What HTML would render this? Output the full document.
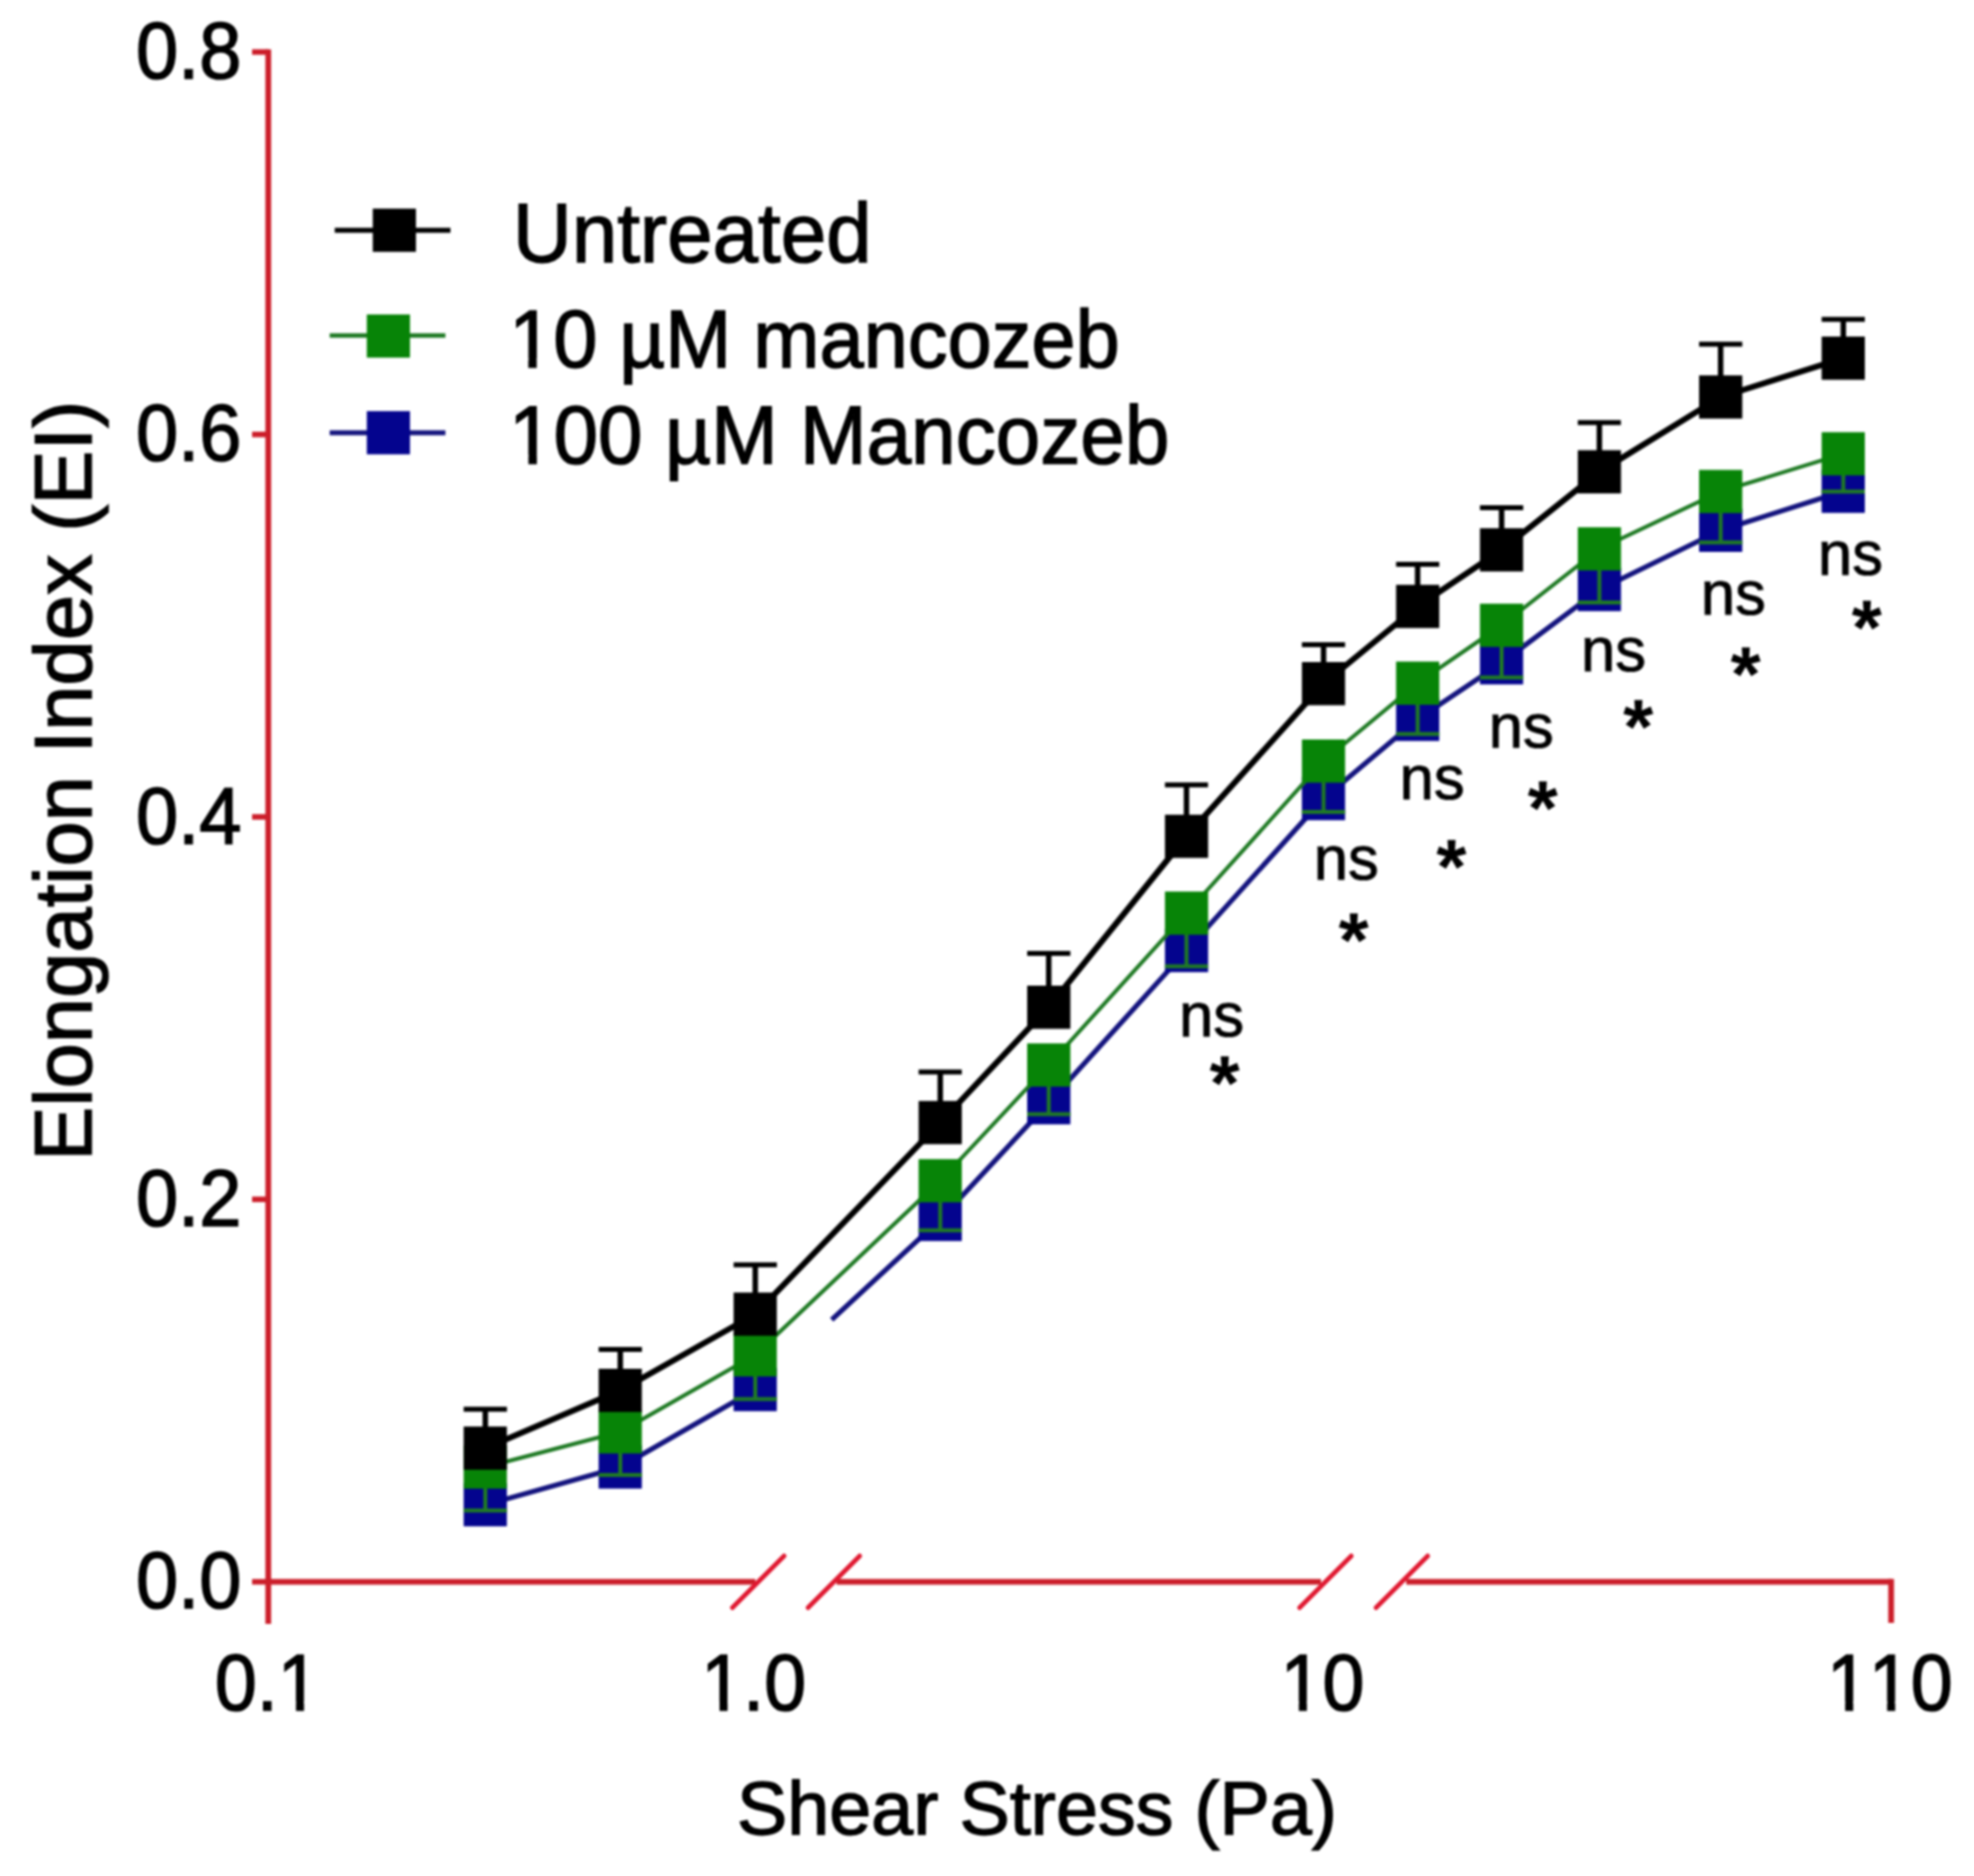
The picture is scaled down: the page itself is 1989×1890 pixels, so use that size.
<!DOCTYPE html>
<html lang="en"><head><meta charset="utf-8"><title>Elongation Index vs Shear Stress</title>
<style>html,body{margin:0;padding:0;background:#fff}body{width:1989px;height:1890px;overflow:hidden}svg{display:block;filter:blur(0.85px)}text{font-family:"Liberation Sans",Arial,sans-serif;fill:#000;font-kerning:none;font-variant-ligatures:none;text-rendering:geometricPrecision}</style>
</head><body>
<svg width="1989" height="1890" viewBox="0 0 1989 1890">
<rect width="1989" height="1890" fill="#fff"/>
<g id="blue">
<polyline points="489.0,1516.0 625.0,1478.0 761.0,1400.0" fill="none" stroke="#14147e" stroke-width="5.1" stroke-linejoin="round"/>
<polyline points="838.0,1329.6 947.4,1228.6 1056.7,1111.0 1195.5,957.6 1333.6,804.5 1428.4,724.7 1513.0,667.8 1611.5,594.0 1733.7,534.2 1857.3,495.0" fill="none" stroke="#14147e" stroke-width="5.1" stroke-linejoin="round"/>
<rect x="467.2" y="1494.2" width="43.5" height="43.5" fill="#04048e"/>
<rect x="603.2" y="1456.2" width="43.5" height="43.5" fill="#04048e"/>
<rect x="739.2" y="1378.2" width="43.5" height="43.5" fill="#04048e"/>
<rect x="925.6" y="1206.8" width="43.5" height="43.5" fill="#04048e"/>
<rect x="1035.0" y="1089.2" width="43.5" height="43.5" fill="#04048e"/>
<rect x="1173.8" y="935.9" width="43.5" height="43.5" fill="#04048e"/>
<rect x="1311.8" y="782.8" width="43.5" height="43.5" fill="#04048e"/>
<rect x="1406.7" y="703.0" width="43.5" height="43.5" fill="#04048e"/>
<rect x="1491.2" y="646.0" width="43.5" height="43.5" fill="#04048e"/>
<rect x="1589.8" y="572.2" width="43.5" height="43.5" fill="#04048e"/>
<rect x="1712.0" y="512.5" width="43.5" height="43.5" fill="#04048e"/>
<rect x="1835.5" y="473.2" width="43.5" height="43.5" fill="#04048e"/>
</g>
<g id="green">
<polyline points="489.0,1478.0 625.0,1442.5 761.0,1365.0 947.4,1189.5 1056.7,1073.0 1195.5,920.0 1333.6,766.7 1428.4,688.2 1513.0,630.0 1611.5,553.0 1733.7,495.2 1857.3,457.2" fill="none" stroke="#1f7a24" stroke-width="4.0" stroke-linejoin="round"/>
<line x1="489.0" y1="1478.0" x2="489.0" y2="1521.7" stroke="#1f7a24" stroke-width="4.0" stroke-linecap="butt"/>
<line x1="467.2" y1="1521.7" x2="510.8" y2="1521.7" stroke="#1f7a24" stroke-width="4.0" stroke-linecap="butt"/>
<line x1="625.0" y1="1442.5" x2="625.0" y2="1486.0" stroke="#1f7a24" stroke-width="4.0" stroke-linecap="butt"/>
<line x1="603.2" y1="1486.0" x2="646.8" y2="1486.0" stroke="#1f7a24" stroke-width="4.0" stroke-linecap="butt"/>
<line x1="761.0" y1="1365.0" x2="761.0" y2="1409.5" stroke="#1f7a24" stroke-width="4.0" stroke-linecap="butt"/>
<line x1="739.2" y1="1409.5" x2="782.8" y2="1409.5" stroke="#1f7a24" stroke-width="4.0" stroke-linecap="butt"/>
<line x1="947.4" y1="1189.5" x2="947.4" y2="1239.5" stroke="#1f7a24" stroke-width="4.0" stroke-linecap="butt"/>
<line x1="925.6" y1="1239.5" x2="969.1" y2="1239.5" stroke="#1f7a24" stroke-width="4.0" stroke-linecap="butt"/>
<line x1="1056.7" y1="1073.0" x2="1056.7" y2="1122.5" stroke="#1f7a24" stroke-width="4.0" stroke-linecap="butt"/>
<line x1="1035.0" y1="1122.5" x2="1078.5" y2="1122.5" stroke="#1f7a24" stroke-width="4.0" stroke-linecap="butt"/>
<line x1="1195.5" y1="920.0" x2="1195.5" y2="973.6" stroke="#1f7a24" stroke-width="4.0" stroke-linecap="butt"/>
<line x1="1173.8" y1="973.6" x2="1217.2" y2="973.6" stroke="#1f7a24" stroke-width="4.0" stroke-linecap="butt"/>
<line x1="1333.6" y1="766.7" x2="1333.6" y2="817.9" stroke="#1f7a24" stroke-width="4.0" stroke-linecap="butt"/>
<line x1="1311.8" y1="817.9" x2="1355.3" y2="817.9" stroke="#1f7a24" stroke-width="4.0" stroke-linecap="butt"/>
<line x1="1428.4" y1="688.2" x2="1428.4" y2="739.4" stroke="#1f7a24" stroke-width="4.0" stroke-linecap="butt"/>
<line x1="1406.7" y1="739.4" x2="1450.2" y2="739.4" stroke="#1f7a24" stroke-width="4.0" stroke-linecap="butt"/>
<line x1="1513.0" y1="630.0" x2="1513.0" y2="682.4" stroke="#1f7a24" stroke-width="4.0" stroke-linecap="butt"/>
<line x1="1491.2" y1="682.4" x2="1534.8" y2="682.4" stroke="#1f7a24" stroke-width="4.0" stroke-linecap="butt"/>
<line x1="1611.5" y1="553.0" x2="1611.5" y2="607.0" stroke="#1f7a24" stroke-width="4.0" stroke-linecap="butt"/>
<line x1="1589.8" y1="607.0" x2="1633.2" y2="607.0" stroke="#1f7a24" stroke-width="4.0" stroke-linecap="butt"/>
<line x1="1733.7" y1="495.2" x2="1733.7" y2="546.4" stroke="#1f7a24" stroke-width="4.0" stroke-linecap="butt"/>
<line x1="1712.0" y1="546.4" x2="1755.5" y2="546.4" stroke="#1f7a24" stroke-width="4.0" stroke-linecap="butt"/>
<line x1="1857.3" y1="457.2" x2="1857.3" y2="495.2" stroke="#1f7a24" stroke-width="4.0" stroke-linecap="butt"/>
<line x1="1835.5" y1="495.2" x2="1879.0" y2="495.2" stroke="#1f7a24" stroke-width="4.0" stroke-linecap="butt"/>
<rect x="467.2" y="1456.2" width="43.5" height="43.5" fill="#078407"/>
<rect x="603.2" y="1420.8" width="43.5" height="43.5" fill="#078407"/>
<rect x="739.2" y="1343.2" width="43.5" height="43.5" fill="#078407"/>
<rect x="925.6" y="1167.8" width="43.5" height="43.5" fill="#078407"/>
<rect x="1035.0" y="1051.2" width="43.5" height="43.5" fill="#078407"/>
<rect x="1173.8" y="898.2" width="43.5" height="43.5" fill="#078407"/>
<rect x="1311.8" y="745.0" width="43.5" height="43.5" fill="#078407"/>
<rect x="1406.7" y="666.5" width="43.5" height="43.5" fill="#078407"/>
<rect x="1491.2" y="608.2" width="43.5" height="43.5" fill="#078407"/>
<rect x="1589.8" y="531.2" width="43.5" height="43.5" fill="#078407"/>
<rect x="1712.0" y="473.4" width="43.5" height="43.5" fill="#078407"/>
<rect x="1835.5" y="435.4" width="43.5" height="43.5" fill="#078407"/>
</g>
<g id="black">
<polyline points="489.0,1459.0 625.0,1400.8 761.0,1324.0 947.4,1131.0 1056.7,1014.7 1195.5,842.5 1333.6,688.7 1428.4,611.0 1513.0,554.0 1611.5,475.4 1733.7,400.0 1857.3,360.8" fill="none" stroke="#000000" stroke-width="6.0" stroke-linejoin="round"/>
<line x1="489.0" y1="1459.0" x2="489.0" y2="1419.7" stroke="#000000" stroke-width="5.5" stroke-linecap="butt"/>
<line x1="467.2" y1="1419.7" x2="510.8" y2="1419.7" stroke="#000000" stroke-width="5.0" stroke-linecap="butt"/>
<line x1="625.0" y1="1400.8" x2="625.0" y2="1359.6" stroke="#000000" stroke-width="5.5" stroke-linecap="butt"/>
<line x1="603.2" y1="1359.6" x2="646.8" y2="1359.6" stroke="#000000" stroke-width="5.0" stroke-linecap="butt"/>
<line x1="761.0" y1="1324.0" x2="761.0" y2="1274.3" stroke="#000000" stroke-width="5.5" stroke-linecap="butt"/>
<line x1="739.2" y1="1274.3" x2="782.8" y2="1274.3" stroke="#000000" stroke-width="5.0" stroke-linecap="butt"/>
<line x1="947.4" y1="1131.0" x2="947.4" y2="1080.0" stroke="#000000" stroke-width="5.5" stroke-linecap="butt"/>
<line x1="925.6" y1="1080.0" x2="969.1" y2="1080.0" stroke="#000000" stroke-width="5.0" stroke-linecap="butt"/>
<line x1="1056.7" y1="1014.7" x2="1056.7" y2="960.4" stroke="#000000" stroke-width="5.5" stroke-linecap="butt"/>
<line x1="1035.0" y1="960.4" x2="1078.5" y2="960.4" stroke="#000000" stroke-width="5.0" stroke-linecap="butt"/>
<line x1="1195.5" y1="842.5" x2="1195.5" y2="790.7" stroke="#000000" stroke-width="5.5" stroke-linecap="butt"/>
<line x1="1173.8" y1="790.7" x2="1217.2" y2="790.7" stroke="#000000" stroke-width="5.0" stroke-linecap="butt"/>
<line x1="1333.6" y1="688.7" x2="1333.6" y2="649.5" stroke="#000000" stroke-width="5.5" stroke-linecap="butt"/>
<line x1="1311.8" y1="649.5" x2="1355.3" y2="649.5" stroke="#000000" stroke-width="5.0" stroke-linecap="butt"/>
<line x1="1428.4" y1="611.0" x2="1428.4" y2="568.4" stroke="#000000" stroke-width="5.5" stroke-linecap="butt"/>
<line x1="1406.7" y1="568.4" x2="1450.2" y2="568.4" stroke="#000000" stroke-width="5.0" stroke-linecap="butt"/>
<line x1="1513.0" y1="554.0" x2="1513.0" y2="511.4" stroke="#000000" stroke-width="5.5" stroke-linecap="butt"/>
<line x1="1491.2" y1="511.4" x2="1534.8" y2="511.4" stroke="#000000" stroke-width="5.0" stroke-linecap="butt"/>
<line x1="1611.5" y1="475.4" x2="1611.5" y2="425.7" stroke="#000000" stroke-width="5.5" stroke-linecap="butt"/>
<line x1="1589.8" y1="425.7" x2="1633.2" y2="425.7" stroke="#000000" stroke-width="5.0" stroke-linecap="butt"/>
<line x1="1733.7" y1="400.0" x2="1733.7" y2="346.8" stroke="#000000" stroke-width="5.5" stroke-linecap="butt"/>
<line x1="1712.0" y1="346.8" x2="1755.5" y2="346.8" stroke="#000000" stroke-width="5.0" stroke-linecap="butt"/>
<line x1="1857.3" y1="360.8" x2="1857.3" y2="321.7" stroke="#000000" stroke-width="5.5" stroke-linecap="butt"/>
<line x1="1835.5" y1="321.7" x2="1879.0" y2="321.7" stroke="#000000" stroke-width="5.0" stroke-linecap="butt"/>
<rect x="467.2" y="1437.2" width="43.5" height="43.5" fill="#000000"/>
<rect x="603.2" y="1379.0" width="43.5" height="43.5" fill="#000000"/>
<rect x="739.2" y="1302.2" width="43.5" height="43.5" fill="#000000"/>
<rect x="925.6" y="1109.2" width="43.5" height="43.5" fill="#000000"/>
<rect x="1035.0" y="993.0" width="43.5" height="43.5" fill="#000000"/>
<rect x="1173.8" y="820.8" width="43.5" height="43.5" fill="#000000"/>
<rect x="1311.8" y="667.0" width="43.5" height="43.5" fill="#000000"/>
<rect x="1406.7" y="589.2" width="43.5" height="43.5" fill="#000000"/>
<rect x="1491.2" y="532.2" width="43.5" height="43.5" fill="#000000"/>
<rect x="1589.8" y="453.6" width="43.5" height="43.5" fill="#000000"/>
<rect x="1712.0" y="378.2" width="43.5" height="43.5" fill="#000000"/>
<rect x="1835.5" y="339.1" width="43.5" height="43.5" fill="#000000"/>
</g>
<g id="axes">
<line x1="270.3" y1="49.7" x2="270.3" y2="1636.0" stroke="#cc1e2a" stroke-width="5.8" stroke-linecap="butt"/>
<line x1="254.0" y1="52.4" x2="270.3" y2="52.4" stroke="#cc1e2a" stroke-width="5.6" stroke-linecap="butt"/>
<line x1="254.0" y1="437.7" x2="270.3" y2="437.7" stroke="#cc1e2a" stroke-width="5.6" stroke-linecap="butt"/>
<line x1="254.0" y1="823.0" x2="270.3" y2="823.0" stroke="#cc1e2a" stroke-width="5.6" stroke-linecap="butt"/>
<line x1="254.0" y1="1208.3" x2="270.3" y2="1208.3" stroke="#cc1e2a" stroke-width="5.6" stroke-linecap="butt"/>
<line x1="254.0" y1="1593.6" x2="270.3" y2="1593.6" stroke="#cc1e2a" stroke-width="5.6" stroke-linecap="butt"/>
<line x1="270.3" y1="1593.6" x2="761.0" y2="1593.6" stroke="#cc1e2a" stroke-width="5.8" stroke-linecap="butt"/>
<line x1="843.0" y1="1593.6" x2="1331.0" y2="1593.6" stroke="#cc1e2a" stroke-width="5.8" stroke-linecap="butt"/>
<line x1="1417.0" y1="1593.6" x2="1905.5" y2="1593.6" stroke="#cc1e2a" stroke-width="5.8" stroke-linecap="butt"/>
<line x1="1905.5" y1="1590.7" x2="1905.5" y2="1635.0" stroke="#cc1e2a" stroke-width="5.8" stroke-linecap="butt"/>
<line x1="738.0" y1="1619.6" x2="790.0" y2="1567.6" stroke="#e01830" stroke-width="4.8" stroke-linecap="round"/>
<line x1="814.2" y1="1619.6" x2="866.2" y2="1567.6" stroke="#e01830" stroke-width="4.8" stroke-linecap="round"/>
<line x1="1309.5" y1="1619.6" x2="1361.5" y2="1567.6" stroke="#e01830" stroke-width="4.8" stroke-linecap="round"/>
<line x1="1386.5" y1="1619.6" x2="1438.5" y2="1567.6" stroke="#e01830" stroke-width="4.8" stroke-linecap="round"/>
</g>
<g id="labels">
<g transform="translate(140.00,79.10) scale(1,1.0600)">
<text x="-2.99" y="0" font-size="76.50" stroke="#000" stroke-width="1.40">0.8</text>
</g>
<g transform="translate(140.00,464.40) scale(1,1.0600)">
<text x="-2.99" y="0" font-size="76.50" stroke="#000" stroke-width="1.40">0.6</text>
</g>
<g transform="translate(140.00,849.70) scale(1,1.0600)">
<text x="-2.99" y="0" font-size="76.50" stroke="#000" stroke-width="1.40">0.4</text>
</g>
<g transform="translate(140.00,1235.00) scale(1,1.0600)">
<text x="-2.99" y="0" font-size="76.50" stroke="#000" stroke-width="1.40">0.2</text>
</g>
<g transform="translate(140.00,1620.30) scale(1,1.0600)">
<text x="-2.99" y="0" font-size="76.50" stroke="#000" stroke-width="1.40">0.0</text>
</g>
<g transform="translate(219.40,1722.60) scale(1,1.0600)">
<text x="-2.97" y="0" font-size="76.00" stroke="#000" stroke-width="1.40">0.1</text>
<rect x="64.54" y="-8.18" width="14.29" height="10.28" fill="#fff"/>
<rect x="86.94" y="-8.18" width="13.73" height="10.28" fill="#fff"/>
</g>
<g transform="translate(713.90,1722.60) scale(1,1.0600)">
<text x="-7.31" y="0" font-size="76.00" stroke="#000" stroke-width="1.40">1.0</text>
<rect x="-3.19" y="-8.18" width="14.29" height="10.28" fill="#fff"/>
<rect x="19.22" y="-8.18" width="13.73" height="10.28" fill="#fff"/>
</g>
<g transform="translate(1297.60,1722.60) scale(1,1.0600)">
<text x="-7.31" y="0" font-size="76.00" stroke="#000" stroke-width="1.40">10</text>
<rect x="-3.19" y="-8.18" width="14.29" height="10.28" fill="#fff"/>
<rect x="19.22" y="-8.18" width="13.73" height="10.28" fill="#fff"/>
</g>
<g transform="translate(1848.10,1722.60) scale(1,1.0600)">
<text x="-7.31" y="0" font-size="76.00" stroke="#000" stroke-width="1.40">110</text>
<rect x="-3.19" y="-8.18" width="14.29" height="10.28" fill="#fff"/>
<rect x="19.22" y="-8.18" width="13.73" height="10.28" fill="#fff"/>
<rect x="39.08" y="-8.18" width="14.29" height="10.28" fill="#fff"/>
<rect x="61.49" y="-8.18" width="13.73" height="10.28" fill="#fff"/>
</g>
<g transform="translate(745.90,1847.80) scale(1,1.0000)">
<text x="-3.46" y="0" font-size="76.10" stroke="#000" stroke-width="1.40">Shear Stress (Pa)</text>
</g>
<g transform="translate(92.10,1162.70) rotate(-90) scale(1,1.0000)">
<text x="-6.73" y="0" font-size="82.00" stroke="#000" stroke-width="1.40">Elongation Index (EI)</text>
</g>
</g>
<g id="legend">
<line x1="337.3" y1="232.0" x2="453.9" y2="232.0" stroke="#000000" stroke-width="5.2" stroke-linecap="butt"/>
<rect x="375.6" y="210.2" width="43.5" height="43.5" fill="#000000"/>
<line x1="332.2" y1="338.0" x2="448.8" y2="338.0" stroke="#1f7a24" stroke-width="4.3" stroke-linecap="butt"/>
<rect x="369.6" y="316.8" width="43.5" height="43.5" fill="#078407"/>
<line x1="332.2" y1="436.0" x2="448.8" y2="436.0" stroke="#14147e" stroke-width="5.0" stroke-linecap="butt"/>
<rect x="369.6" y="414.2" width="43.5" height="43.5" fill="#04048e"/>
<g transform="translate(523.10,264.10) scale(1,1.0300)">
<text x="-6.35" y="0" font-size="82.30" stroke="#000" stroke-width="1.40">Untreated</text>
</g>
<g transform="translate(520.60,369.80) scale(1,1.0300)">
<text x="-7.70" y="0" font-size="80.00" stroke="#000" stroke-width="1.40">10 µM mancozeb</text>
<rect x="-3.32" y="-8.48" width="15.04" height="10.58" fill="#fff"/>
<rect x="20.19" y="-8.48" width="14.45" height="10.58" fill="#fff"/>
</g>
<g transform="translate(520.60,467.00) scale(1,1.0300)">
<text x="-7.76" y="0" font-size="80.70" stroke="#000" stroke-width="1.40">100 µM Mancozeb</text>
<rect x="-3.34" y="-8.53" width="15.17" height="10.63" fill="#fff"/>
<rect x="20.36" y="-8.53" width="14.58" height="10.63" fill="#fff"/>
</g>
</g>
<g id="annot">
<g transform="translate(1192.20,1043.70) scale(1,1.0000)">
<text x="-4.12" y="0" font-size="62.00" stroke="#000" stroke-width="0.90">ns</text>
</g>
<g transform="translate(1327.90,886.40) scale(1,1.0000)">
<text x="-4.12" y="0" font-size="62.00" stroke="#000" stroke-width="0.90">ns</text>
</g>
<g transform="translate(1414.40,804.90) scale(1,1.0000)">
<text x="-4.12" y="0" font-size="62.00" stroke="#000" stroke-width="0.90">ns</text>
</g>
<g transform="translate(1504.10,753.20) scale(1,1.0000)">
<text x="-4.12" y="0" font-size="62.00" stroke="#000" stroke-width="0.90">ns</text>
</g>
<g transform="translate(1597.20,675.90) scale(1,1.0000)">
<text x="-4.12" y="0" font-size="62.00" stroke="#000" stroke-width="0.90">ns</text>
</g>
<g transform="translate(1717.80,619.00) scale(1,1.0000)">
<text x="-4.12" y="0" font-size="62.00" stroke="#000" stroke-width="0.90">ns</text>
</g>
<g transform="translate(1835.80,578.60) scale(1,1.0000)">
<text x="-4.12" y="0" font-size="62.00" stroke="#000" stroke-width="0.90">ns</text>
</g>
<g transform="translate(1218.98,1117.65) scale(1,1.0000)">
<text x="-0.23" y="0" font-size="78.00" font-weight="bold">*</text>
</g>
<g transform="translate(1348.98,974.45) scale(1,1.0000)">
<text x="-0.23" y="0" font-size="78.00" font-weight="bold">*</text>
</g>
<g transform="translate(1447.38,899.65) scale(1,1.0000)">
<text x="-0.23" y="0" font-size="78.00" font-weight="bold">*</text>
</g>
<g transform="translate(1539.58,840.95) scale(1,1.0000)">
<text x="-0.23" y="0" font-size="78.00" font-weight="bold">*</text>
</g>
<g transform="translate(1635.68,758.55) scale(1,1.0000)">
<text x="-0.23" y="0" font-size="78.00" font-weight="bold">*</text>
</g>
<g transform="translate(1744.08,705.55) scale(1,1.0000)">
<text x="-0.23" y="0" font-size="78.00" font-weight="bold">*</text>
</g>
<g transform="translate(1865.98,658.65) scale(1,1.0000)">
<text x="-0.23" y="0" font-size="78.00" font-weight="bold">*</text>
</g>
</g>
</svg></body></html>
